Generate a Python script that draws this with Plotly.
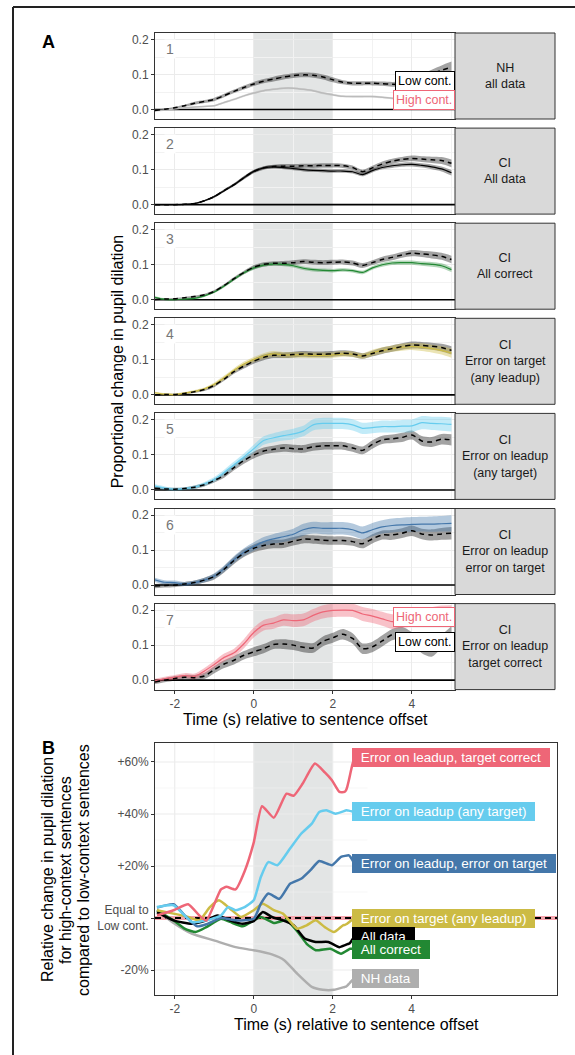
import plotly.graph_objects as go

W, H = 575, 1055
FONT = "Liberation Sans, Arial, sans-serif"

# ---------------- DATA: panel A (proportional change in pupil dilation) ----------------
t = [-2.5, -2.25, -2.0, -1.75, -1.5, -1.25, -1.0, -0.75, -0.5, -0.25, 0.0, 0.25, 0.5, 0.75,
     1.0, 1.25, 1.5, 1.75, 2.0, 2.25, 2.5, 2.75, 3.0, 3.25, 3.5, 3.75, 4.0, 4.25, 4.5, 4.75, 5.0]

strip_labels = ["NH<br>all data", "CI<br>All data", "CI<br>All correct",
                "CI<br>Error on target<br>(any leadup)", "CI<br>Error on leadup<br>(any target)",
                "CI<br>Error on leadup<br>error on target", "CI<br>Error on leadup<br>target correct"]
high_colors = ["#BBBBBB", "#000000", "#228833", "#CCBB44", "#66CCEE", "#4477AA", "#EE6677"]
high_fill = ["rgba(187,187,187,0.35)", "rgba(0,0,0,0.35)", "rgba(34,136,51,0.35)",
             "rgba(204,187,68,0.4)", "rgba(102,204,238,0.4)", "rgba(68,119,170,0.4)",
             "rgba(238,102,119,0.4)"]

p1_low = [-0.003, 0.001, 0.005, 0.011, 0.018, 0.023, 0.029, 0.040, 0.052, 0.063, 0.073, 0.081, 0.087, 0.093,
          0.097, 0.099, 0.098, 0.093, 0.085, 0.078, 0.075, 0.075, 0.075, 0.074, 0.072, 0.072, 0.078, 0.090, 0.102, 0.112, 0.121]
p1_high = [-0.003, -0.001, 0.002, 0.005, 0.007, 0.009, 0.011, 0.020, 0.029, 0.039, 0.047, 0.054, 0.058, 0.061,
           0.061, 0.058, 0.054, 0.047, 0.042, 0.038, 0.037, 0.037, 0.037, 0.035, 0.032, 0.030, 0.030, 0.032, 0.035, 0.038, 0.040]
p2_low = [0.0, 0.0, 0.0, 0.001, 0.003, 0.011, 0.023, 0.040, 0.057, 0.077, 0.095, 0.105, 0.109, 0.110,
          0.110, 0.111, 0.111, 0.112, 0.112, 0.111, 0.106, 0.094, 0.105, 0.116, 0.124, 0.129, 0.132, 0.130, 0.128, 0.126, 0.118]
p2_high = [0.0, 0.0, 0.0, 0.001, 0.003, 0.011, 0.023, 0.040, 0.057, 0.077, 0.095, 0.105, 0.108, 0.106,
           0.103, 0.100, 0.098, 0.097, 0.096, 0.096, 0.094, 0.086, 0.097, 0.106, 0.111, 0.114, 0.115, 0.112, 0.108, 0.102, 0.091]
p3_low = [0.001, 0.002, 0.003, 0.006, 0.009, 0.014, 0.024, 0.041, 0.060, 0.078, 0.093, 0.101, 0.104, 0.104,
          0.106, 0.109, 0.107, 0.106, 0.107, 0.108, 0.105, 0.098, 0.106, 0.115, 0.121, 0.128, 0.133, 0.131, 0.128, 0.124, 0.115]
p3_high = [0.007, 0.001, 0.0, 0.002, 0.004, 0.011, 0.022, 0.039, 0.059, 0.077, 0.091, 0.099, 0.102, 0.101,
           0.097, 0.090, 0.086, 0.084, 0.083, 0.085, 0.083, 0.078, 0.091, 0.100, 0.105, 0.106, 0.106, 0.103, 0.101, 0.097, 0.086]
p4_low = [0.0, 0.001, 0.001, 0.004, 0.009, 0.015, 0.027, 0.045, 0.066, 0.082, 0.096, 0.107, 0.113, 0.113,
          0.115, 0.117, 0.116, 0.116, 0.117, 0.119, 0.117, 0.111, 0.118, 0.126, 0.132, 0.138, 0.142, 0.141, 0.139, 0.135, 0.127]
p4_high = [0.006, 0.002, 0.001, 0.005, 0.010, 0.017, 0.030, 0.049, 0.070, 0.088, 0.101, 0.111, 0.117, 0.114,
           0.114, 0.114, 0.113, 0.113, 0.114, 0.117, 0.116, 0.111, 0.120, 0.127, 0.132, 0.136, 0.138, 0.136, 0.132, 0.127, 0.119]
p5_low = [0.005, 0.003, 0.002, 0.004, 0.008, 0.015, 0.027, 0.042, 0.064, 0.084, 0.100, 0.111, 0.116, 0.120,
          0.118, 0.117, 0.123, 0.126, 0.126, 0.126, 0.120, 0.113, 0.130, 0.143, 0.146, 0.150, 0.157, 0.140, 0.137, 0.145, 0.143]
p5_high = [0.011, 0.005, 0.002, 0.004, 0.008, 0.017, 0.030, 0.050, 0.072, 0.094, 0.118, 0.141, 0.149, 0.155,
           0.160, 0.168, 0.186, 0.190, 0.190, 0.190, 0.186, 0.176, 0.178, 0.181, 0.181, 0.182, 0.183, 0.192, 0.190, 0.189, 0.187]
p6_low = [-0.003, -0.001, 0.0, 0.003, 0.007, 0.014, 0.024, 0.045, 0.070, 0.091, 0.105, 0.113, 0.117, 0.118,
          0.125, 0.131, 0.130, 0.128, 0.127, 0.127, 0.124, 0.118, 0.132, 0.143, 0.143, 0.148, 0.155, 0.146, 0.143, 0.146, 0.148]
p6_high = [0.015, 0.008, 0.007, 0.003, 0.007, 0.014, 0.026, 0.047, 0.073, 0.094, 0.110, 0.124, 0.132, 0.138,
           0.145, 0.158, 0.164, 0.162, 0.162, 0.162, 0.158, 0.149, 0.158, 0.166, 0.170, 0.172, 0.173, 0.174, 0.174, 0.175, 0.176]
p7_low = [-0.005, 0.0, 0.005, 0.008, 0.007, 0.012, 0.030, 0.046, 0.057, 0.071, 0.081, 0.090, 0.102, 0.103,
          0.100, 0.094, 0.092, 0.111, 0.121, 0.131, 0.119, 0.090, 0.095, 0.112, 0.130, 0.135, 0.120, 0.095, 0.085, 0.110, 0.135]
p7_high = [-0.002, 0.004, 0.008, 0.013, 0.011, 0.026, 0.045, 0.065, 0.078, 0.104, 0.136, 0.157, 0.163, 0.172,
           0.170, 0.172, 0.185, 0.195, 0.199, 0.200, 0.199, 0.189, 0.183, 0.175, 0.167, 0.170, 0.175, 0.180, 0.185, 0.190, 0.190]

# ribbon half-widths
p1_low_se = [0.002, 0.002, 0.003, 0.003, 0.004, 0.004, 0.005, 0.005, 0.005, 0.006, 0.006, 0.006, 0.007, 0.007, 0.007, 0.007,
             0.007, 0.007, 0.007, 0.006, 0.006, 0.006, 0.006, 0.006, 0.007, 0.008, 0.009, 0.010, 0.012, 0.014, 0.016]
p1_high_se = [0.001, 0.001, 0.002, 0.002, 0.002, 0.002, 0.002, 0.003, 0.003, 0.003, 0.003, 0.003, 0.003, 0.003, 0.003, 0.003,
              0.003, 0.003, 0.003, 0.003, 0.003, 0.003, 0.003, 0.003, 0.003, 0.004, 0.004, 0.004, 0.004, 0.004, 0.004]
p2_low_se = [0.001, 0.001, 0.001, 0.001, 0.002, 0.002, 0.003, 0.004, 0.004, 0.005, 0.005, 0.005, 0.005, 0.006, 0.006, 0.006,
             0.006, 0.006, 0.006, 0.006, 0.006, 0.006, 0.006, 0.007, 0.007, 0.007, 0.008, 0.008, 0.009, 0.010, 0.011]
p2_high_se = [0.001, 0.001, 0.001, 0.001, 0.002, 0.002, 0.003, 0.003, 0.004, 0.004, 0.004, 0.004, 0.005, 0.005, 0.005, 0.005,
              0.005, 0.005, 0.005, 0.005, 0.005, 0.005, 0.005, 0.005, 0.006, 0.006, 0.006, 0.006, 0.007, 0.007, 0.008]
p3_low_se = [0.002, 0.002, 0.002, 0.002, 0.003, 0.003, 0.004, 0.004, 0.005, 0.005, 0.006, 0.006, 0.006, 0.007, 0.007, 0.007,
             0.007, 0.007, 0.007, 0.007, 0.007, 0.007, 0.007, 0.008, 0.008, 0.008, 0.009, 0.009, 0.010, 0.010, 0.011]
p3_high_se = [0.003, 0.003, 0.002, 0.002, 0.003, 0.003, 0.003, 0.004, 0.004, 0.004, 0.005, 0.005, 0.005, 0.005, 0.005, 0.005,
              0.005, 0.005, 0.005, 0.005, 0.005, 0.005, 0.005, 0.006, 0.006, 0.006, 0.006, 0.006, 0.007, 0.007, 0.007]
p4_low_se = [0.002, 0.002, 0.002, 0.003, 0.003, 0.004, 0.005, 0.005, 0.006, 0.007, 0.007, 0.008, 0.008, 0.008, 0.008, 0.008,
             0.008, 0.008, 0.008, 0.008, 0.008, 0.008, 0.008, 0.009, 0.009, 0.009, 0.010, 0.010, 0.010, 0.011, 0.012]
p4_high_se = [0.003, 0.003, 0.003, 0.003, 0.004, 0.004, 0.005, 0.006, 0.006, 0.007, 0.007, 0.008, 0.008, 0.008, 0.008, 0.008,
              0.008, 0.008, 0.008, 0.008, 0.008, 0.008, 0.009, 0.009, 0.009, 0.010, 0.010, 0.011, 0.011, 0.012, 0.013]
p5_low_se = [0.004, 0.004, 0.004, 0.004, 0.005, 0.005, 0.006, 0.007, 0.008, 0.009, 0.010, 0.010, 0.010, 0.011, 0.011, 0.011,
             0.011, 0.011, 0.011, 0.011, 0.011, 0.011, 0.012, 0.012, 0.012, 0.013, 0.013, 0.014, 0.014, 0.015, 0.016]
p5_high_se = [0.005, 0.005, 0.004, 0.004, 0.005, 0.006, 0.007, 0.008, 0.009, 0.010, 0.011, 0.012, 0.013, 0.014, 0.015, 0.015,
              0.016, 0.016, 0.016, 0.016, 0.016, 0.016, 0.016, 0.017, 0.017, 0.018, 0.018, 0.019, 0.019, 0.020, 0.020]
p6_low_se = [0.006, 0.006, 0.006, 0.006, 0.006, 0.007, 0.008, 0.009, 0.010, 0.011, 0.011, 0.012, 0.012, 0.012, 0.012, 0.012,
             0.012, 0.012, 0.012, 0.012, 0.012, 0.013, 0.013, 0.013, 0.014, 0.014, 0.015, 0.015, 0.016, 0.017, 0.018]
p6_high_se = [0.006, 0.006, 0.006, 0.006, 0.006, 0.007, 0.008, 0.009, 0.010, 0.011, 0.012, 0.013, 0.014, 0.015, 0.016, 0.017,
              0.017, 0.017, 0.018, 0.018, 0.018, 0.018, 0.019, 0.019, 0.020, 0.020, 0.021, 0.021, 0.022, 0.022, 0.023]
p7_low_se = [0.006, 0.006, 0.007, 0.007, 0.008, 0.009, 0.010, 0.011, 0.012, 0.012, 0.013, 0.013, 0.013, 0.014, 0.014, 0.014,
             0.014, 0.014, 0.014, 0.015, 0.015, 0.015, 0.015, 0.016, 0.016, 0.017, 0.017, 0.018, 0.018, 0.019, 0.019]
p7_high_se = [0.006, 0.006, 0.007, 0.007, 0.008, 0.009, 0.010, 0.011, 0.012, 0.013, 0.014, 0.015, 0.016, 0.017, 0.018, 0.018,
              0.018, 0.019, 0.019, 0.019, 0.019, 0.020, 0.020, 0.020, 0.021, 0.021, 0.022, 0.022, 0.023, 0.023, 0.024]

lows = [p1_low, p2_low, p3_low, p4_low, p5_low, p6_low, p7_low]
highs = [p1_high, p2_high, p3_high, p4_high, p5_high, p6_high, p7_high]
low_ses = [p1_low_se, p2_low_se, p3_low_se, p4_low_se, p5_low_se, p6_low_se, p7_low_se]
high_ses = [p1_high_se, p2_high_se, p3_high_se, p4_high_se, p5_high_se, p6_high_se, p7_high_se]

# in-panel labels (panels 1 and 7): y positions
p1_label_low_y, p1_label_high_y = 0.082, 0.028
p7_label_high_y, p7_label_low_y = 0.181, 0.109

# ---------------- DATA: panel B (relative change, %) ----------------
red_x = [-2.45, -2.03, -1.66, -1.38, -1.2, -0.83, -0.69, -0.46, -0.23, 0.0, 0.21, 0.51, 0.83, 1.01, 1.24, 1.55, 1.8, 1.98, 2.17, 2.3]
red_y = [1.0, 3.0, 5.3, 1.0, -1.0, 11.0, 12.0, 11.0, 18.0, 29.0, 43.0, 38.6, 47.8, 47.0, 51.7, 59.4, 56.0, 53.0, 48.5, 48.5]
cyan_x = [-2.45, -2.03, -1.57, -1.2, -0.83, -0.65, -0.46, -0.23, 0.0, 0.18, 0.37, 0.6, 0.92, 1.2, 1.47, 1.66, 1.84, 2.07, 2.35]
cyan_y = [4.2, 4.9, -1.5, -0.9, 1.0, 4.2, 3.0, 4.2, 6.8, 15.8, 21.5, 20.3, 26.7, 32.4, 36.3, 40.8, 41.4, 40.1, 41.4]
blue_x = [-2.45, -2.03, -1.71, -1.43, -1.2, -0.83, -0.46, 0.0, 0.18, 0.37, 0.65, 0.92, 1.2, 1.43, 1.66, 1.98, 2.21, 2.4]
blue_y = [4.0, 5.3, 0.4, -3.2, -2.4, 0.0, -0.9, -0.3, 5.5, 9.4, 7.4, 13.2, 15.1, 18.3, 21.9, 20.3, 23.5, 24.1]
yellow_x = [-2.45, -2.03, -1.66, -1.38, -1.11, -0.88, -0.6, -0.32, 0.0, 0.23, 0.51, 0.74, 1.1, 1.34, 1.57, 1.8, 2.03, 2.26]
yellow_y = [3.0, 1.7, 0.4, -0.9, 4.2, 6.8, 3.6, 0.4, 3.0, 5.5, 3.0, 1.7, -4.1, -2.8, -0.9, -3.5, -5.4, -2.8]
black_x = [-2.45, -2.03, -1.57, -1.2, -0.92, -0.55, -0.28, 0.0, 0.23, 0.46, 0.74, 1.01, 1.29, 1.57, 1.89, 2.17, 2.4]
black_y = [2.3, -0.9, -2.2, -0.9, 1.0, -1.2, -2.2, -1.2, 2.3, 0.4, -0.9, -2.8, -7.9, -9.2, -9.2, -11.2, -9.9]
green_x = [-2.45, -2.03, -1.75, -1.47, -1.2, -0.83, -0.6, -0.28, 0.0, 0.18, 0.51, 0.83, 1.15, 1.34, 1.57, 1.94, 2.21, 2.44]
green_y = [3.0, -0.9, -4.1, -5.4, -3.5, -0.3, -1.5, -3.2, -0.9, 0.4, -1.9, -0.9, -6.0, -9.9, -12.4, -11.8, -13.7, -11.8]
grey_x = [-2.45, -2.03, -1.57, -1.01, -0.46, 0.0, 0.46, 0.78, 1.1, 1.47, 1.75, 2.03, 2.3]
grey_y = [3.0, -1.9, -6.0, -8.6, -11.2, -12.4, -14.0, -16.3, -21.4, -26.5, -27.6, -27.6, -26.5]

b_names = ["NH data", "All correct", "All data", "Error on target (any leadup)",
           "Error on leadup, error on target", "Error on leadup (any target)", "Error on leadup, target correct"]
b_x = [grey_x, green_x, black_x, yellow_x, blue_x, cyan_x, red_x]
b_y = [grey_y, green_y, black_y, yellow_y, blue_y, cyan_y, red_y]
b_colors = ["#AEAEAE", "#228833", "#000000", "#CCBB44", "#4477AA", "#66CCEE", "#EE6677"]
b_label_y = [-23.2, -12.0, -7.0, -0.2, 20.9, 40.8, 61.7]
b_label_x = 2.5

# ---------------- LAYOUT GEOMETRY (pixels) ----------------
XL, XR_A, XR_B, STRIP_R = 155, 455, 557, 555
TOP0, PH, PITCH = 33, 86, 95.1
B_TOP, B_BOT = 743, 995
XRANGE_A = [-2.5, 5.09]
XRANGE_B = [-2.5, 7.68]
YRANGE_A = [-0.027, 0.2186]
YRANGE_B = [-29.6, 67.3]
TICKFONT = dict(size=12, color="#4D4D4D")
PAD = "\u2002"


def px(x):
    return x / W


def py(y):
    return 1 - y / H


def text_ann(x, y, text, size, color="black", angle=0, **kw):
    d = dict(xref="paper", yref="paper", x=px(x), y=py(y), text=text, showarrow=False,
             xanchor="center", yanchor="middle", font=dict(size=size, color=color), textangle=angle)
    d.update(kw)
    return d


fig = go.Figure()
shapes = []
annotations = []
layout_axes = {}

for i in range(7):
    n = i + 1
    xa = "x" if n == 1 else f"x{n}"
    ya = "y" if n == 1 else f"y{n}"
    top = TOP0 + i * PITCH
    bot = top + PH
    ydom = [py(bot), py(top)]
    layout_axes["xaxis" if n == 1 else f"xaxis{n}"] = dict(
        domain=[px(XL), px(XR_A)], range=XRANGE_A, anchor=ya,
        showline=True, mirror=True, linecolor="#333333", linewidth=1,
        tickvals=[-2, 0, 2, 4], ticktext=["-2", "0", "2", "4"],
        showticklabels=(n == 7), ticks="outside" if n == 7 else "", ticklen=3,
        tickcolor="#333333", tickfont=TICKFONT,
        showgrid=True, gridcolor="#EBEBEB", gridwidth=1.1, zeroline=False,
        minor=dict(tickvals=[-1, 1, 3, 5], showgrid=True, gridcolor="#F2F2F2", gridwidth=0.6),
    )
    layout_axes["yaxis" if n == 1 else f"yaxis{n}"] = dict(
        domain=ydom, range=YRANGE_A, anchor=xa,
        showline=True, mirror=True, linecolor="#333333", linewidth=1,
        tickvals=[0, 0.1, 0.2], ticktext=["0.0", "0.1", "0.2"], ticks="outside", ticklen=3,
        tickcolor="#333333", tickfont=TICKFONT,
        showgrid=True, gridcolor="#EBEBEB", gridwidth=1.1, zeroline=False,
        minor=dict(tickvals=[0.05, 0.15], showgrid=True, gridcolor="#F2F2F2", gridwidth=0.6),
    )
    # shaded window 0-2 s
    shapes.append(dict(type="rect", xref=xa, yref="paper", x0=0, x1=2, y0=ydom[0], y1=ydom[1],
                       fillcolor="#E3E5E5", line=dict(width=0), layer="below"))
    # strip
    shapes.append(dict(type="rect", xref="paper", yref="paper", x0=px(XR_A), x1=px(STRIP_R),
                       y0=ydom[0], y1=ydom[1], fillcolor="#D9D9D9",
                       line=dict(color="#333333", width=1), layer="above"))
    annotations.append(text_ann((XR_A + STRIP_R) / 2, (top + bot) / 2, strip_labels[i], 12.5, "#1A1A1A",
                                align="center"))
    # panel number
    annotations.append(text_ann(XL + 15, top + 16, str(n), 14, "#777777", bgcolor="white"))

    # zero reference line (drawn first so data sit on top)
    fig.add_trace(go.Scatter(x=XRANGE_A, y=[0, 0], xaxis=xa, yaxis=ya, mode="lines",
                             line=dict(color="#000000", width=1.6), showlegend=False, hoverinfo="skip"))

    low, high = lows[i], highs[i]
    lse, hse = low_ses[i], high_ses[i]
    # low-context ribbon
    fig.add_trace(go.Scatter(x=t, y=[v - s for v, s in zip(low, lse)], xaxis=xa, yaxis=ya, mode="lines",
                             line=dict(width=0, shape="spline", smoothing=0.8), showlegend=False, hoverinfo="skip"))
    fig.add_trace(go.Scatter(x=t, y=[v + s for v, s in zip(low, lse)], xaxis=xa, yaxis=ya, mode="lines",
                             line=dict(width=0, shape="spline", smoothing=0.8), fill="tonexty",
                             fillcolor="rgba(0,0,0,0.36)", showlegend=False, hoverinfo="skip"))
    # high-context ribbon
    fig.add_trace(go.Scatter(x=t, y=[v - s for v, s in zip(high, hse)], xaxis=xa, yaxis=ya, mode="lines",
                             line=dict(width=0, shape="spline", smoothing=0.8), showlegend=False, hoverinfo="skip"))
    fig.add_trace(go.Scatter(x=t, y=[v + s for v, s in zip(high, hse)], xaxis=xa, yaxis=ya, mode="lines",
                             line=dict(width=0, shape="spline", smoothing=0.8), fill="tonexty",
                             fillcolor=high_fill[i], showlegend=False, hoverinfo="skip"))
    # high-context line
    fig.add_trace(go.Scatter(x=t, y=high, xaxis=xa, yaxis=ya, mode="lines",
                             line=dict(color=high_colors[i], width=1.5 if i == 0 else 1.2,
                                       shape="spline", smoothing=0.8),
                             showlegend=False))
    # low-context line (dashed)
    fig.add_trace(go.Scatter(x=t, y=low, xaxis=xa, yaxis=ya, mode="lines",
                             line=dict(color="#000000", width=1.5, dash="5px,4px",
                                       shape="spline", smoothing=0.8),
                             showlegend=False))


# in-panel labels
def box_label(xa, y, text, color):
    return dict(xref=xa, yref=xa.replace("x", "y"), x=XRANGE_A[1], y=y, xanchor="right", yanchor="middle",
                text=text, showarrow=False, font=dict(size=12.5, color=color),
                bgcolor="white", bordercolor=color, borderwidth=1, borderpad=2)


annotations.append(box_label("x", p1_label_low_y, "Low cont.", "#000000"))
annotations.append(box_label("x", p1_label_high_y, "High cont.", "#EE6677"))
annotations.append(box_label("x7", p7_label_high_y, "High cont.", "#EE6677"))
annotations.append(box_label("x7", p7_label_low_y, "Low cont.", "#000000"))

# ---------------- Panel B ----------------
layout_axes["xaxis8"] = dict(
    domain=[px(XL), px(XR_B)], range=XRANGE_B, anchor="y8",
    showline=True, mirror=True, linecolor="#333333", linewidth=1,
    tickvals=[-2, 0, 2, 4], ticktext=["-2", "0", "2", "4"], ticks="outside", ticklen=3,
    tickcolor="#333333", tickfont=TICKFONT, showgrid=False, zeroline=False,
)
layout_axes["yaxis8"] = dict(
    domain=[py(B_BOT), py(B_TOP)], range=YRANGE_B, anchor="x8",
    showline=True, mirror=True, linecolor="#333333", linewidth=1,
    tickvals=[-20, 0, 20, 40, 60], ticktext=["-20%", "Equal to<br>Low cont.", "+20%", "+40%", "+60%"],
    ticks="outside", ticklen=3, tickcolor="#333333", tickfont=TICKFONT,
    showgrid=False, zeroline=False,
)
b_dom = [py(B_BOT), py(B_TOP)]
shapes.append(dict(type="rect", xref="x8", yref="paper", x0=0, x1=2, y0=b_dom[0], y1=b_dom[1],
                   fillcolor="#E3E5E5", line=dict(width=0), layer="below"))
for gy in [-20, 0, 20, 40, 60]:
    shapes.append(dict(type="line", xref="x8", yref="y8", x0=XRANGE_B[0], x1=2.88, y0=gy, y1=gy,
                       line=dict(color="#EBEBEB", width=1.1), layer="below"))
for gy in [-10, 10, 30, 50]:
    shapes.append(dict(type="line", xref="x8", yref="y8", x0=XRANGE_B[0], x1=2.88, y0=gy, y1=gy,
                       line=dict(color="#F2F2F2", width=0.6), layer="below"))
for gx in [-2, 0, 2]:
    shapes.append(dict(type="line", xref="x8", yref="paper", x0=gx, x1=gx, y0=b_dom[0], y1=b_dom[1],
                       line=dict(color="#EBEBEB", width=1.1), layer="below"))
for gx in [-1, 1]:
    shapes.append(dict(type="line", xref="x8", yref="paper", x0=gx, x1=gx, y0=b_dom[0], y1=b_dom[1],
                       line=dict(color="#F2F2F2", width=0.6), layer="below"))

# reference line (equal to low context): pink under black dashed
fig.add_trace(go.Scatter(x=XRANGE_B, y=[0, 0], xaxis="x8", yaxis="y8", mode="lines",
                         line=dict(color="#F4A3AB", width=4), showlegend=False, hoverinfo="skip"))
fig.add_trace(go.Scatter(x=XRANGE_B, y=[0, 0], xaxis="x8", yaxis="y8", mode="lines",
                         line=dict(color="#000000", width=2, dash="6px,4px"), showlegend=False, hoverinfo="skip"))

for xs, ys, col, ly in zip(b_x, b_y, b_colors, b_label_y):
    # connector to label (smooth step)
    x0, y0 = xs[-1], ys[-1]
    x1 = b_label_x + 0.08
    steps = [k / 8 for k in range(9)]
    cx = [x0 + (x1 - x0) * s for s in steps]
    cy = [y0 + (ly - y0) * (3 * s * s - 2 * s * s * s) for s in steps]
    fig.add_trace(go.Scatter(x=list(xs) + cx[1:], y=list(ys) + cy[1:], xaxis="x8", yaxis="y8", mode="lines",
                             line=dict(color=col, width=2.5, shape="spline", smoothing=0.5),
                             showlegend=False))

label_order = [6, 5, 4, 3, 2, 1, 0]
for k in label_order:
    annotations.append(dict(xref="x8", yref="y8", x=b_label_x, y=b_label_y[k], xanchor="left",
                            yanchor="middle", text=PAD + b_names[k] + PAD, showarrow=False,
                            font=dict(size=13.5, color="white"), bgcolor=b_colors[k],
                            bordercolor=b_colors[k], borderwidth=1, borderpad=1))

# ---------------- Titles / panel letters ----------------
annotations += [
    text_ann(48, 42, "<b>A</b>", 18),
    text_ann(48, 748, "<b>B</b>", 18),
    text_ann(117, (TOP0 + TOP0 + 6 * PITCH + PH) / 2, "Proportional change in pupil dilation", 16, angle=-90),
    text_ann((XL + XR_A) / 2, 719, "Time (s) relative to sentence offset", 16),
    text_ann(47, 870, "Relative change in pupil dilation", 16, angle=-90),
    text_ann(65, 870, "for high-context sentences", 16, angle=-90),
    text_ann(83, 870, "compared to low-context sentences", 16, angle=-90),
    text_ann((XL + XR_B) / 2, 1024, "Time (s) relative to sentence offset", 16),
]

# outer frame lines
shapes.append(dict(type="line", xref="paper", yref="paper", x0=px(13), x1=px(13), y0=0, y1=py(7),
                   line=dict(color="#222222", width=2)))
shapes.append(dict(type="line", xref="paper", yref="paper", x0=px(13), x1=1, y0=py(7), y1=py(7),
                   line=dict(color="#222222", width=2)))

fig.update_layout(
    width=W, height=H, margin=dict(l=0, r=0, t=0, b=0),
    paper_bgcolor="white", plot_bgcolor="white",
    font=dict(family=FONT, color="black"),
    shapes=shapes, annotations=annotations, showlegend=False,
    **layout_axes,
)

fig.write_html("out.html", config={"displayModeBar": False},
               post_script="document.body.style.margin='0';document.body.style.overflow='hidden';")
